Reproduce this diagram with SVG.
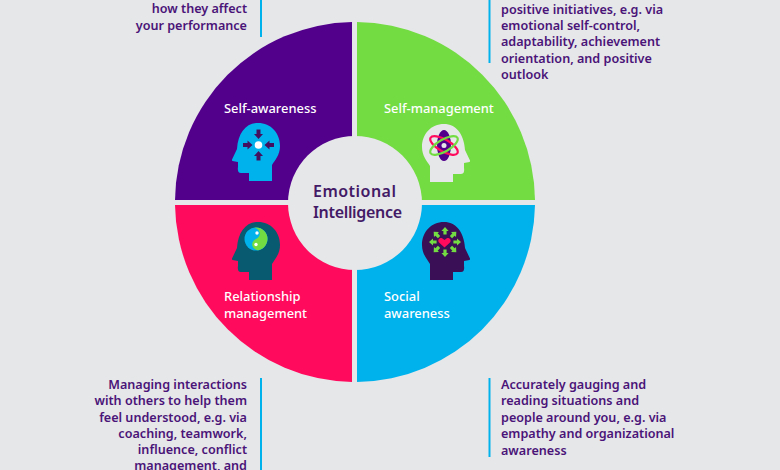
<svg xmlns="http://www.w3.org/2000/svg" width="780" height="470" viewBox="0 0 780 470">
<style>
text{font-family:"Noto Sans","Open Sans","DejaVu Sans",sans-serif}
.b{font-size:12.6px;font-weight:600;fill:#4a1478}
.e{text-anchor:end}
.l{font-size:12.9px;font-weight:500;fill:#fff}
.t{font-size:16px;font-weight:600;fill:#431a66}
.r{stroke:#00b2ec;stroke-width:2;fill:none}
.g{fill:#72dc42}
.p{fill:#ff0a5c}
.v{fill:#52008c}
.c{fill:#00b2ec}
</style>
<defs>
<path id="head" d="M26 0C39 0 48 10 48 23C48 32 43 37 40 42L40 58L17 58L17 50L9 50C6 50 5.500 47 6 44L6 39L0.500 38C-0.500 37.500 0 36 0.500 35.500L5 26C6 10 14 0 26 0Z"/>
<path id="ar" d="M-4.500 0L0 -5L4.500 0L2 0L2 4.500L-2 4.500L-2 0Z"/>
</defs>
<rect width="780" height="470" fill="#e6e7e9"/>
<g id="connectors">
<path class="r" d="M261 0V37"/>
<path class="r" d="M489.500 0V63"/>
<path class="r" d="M261 378V470"/>
<path class="r" d="M489.500 378V457"/>
</g>
<g id="self-awareness">
<path class="v" d="M352 22V200H175A180 180 0 0 1 352 22Z"/>
<text class="l" x="224" y="113">Self-awareness</text>
<use href="#head" x="232" y="123" class="c"/>
<g fill="#42105f">
<use href="#ar" transform="translate(258.500 134) rotate(180)"/>
<use href="#ar" transform="translate(258.500 156)"/>
<use href="#ar" transform="translate(247.500 145) rotate(90)"/>
<use href="#ar" transform="translate(269.500 145) rotate(-90)"/>
</g>
<circle cx="258.500" cy="145" r="3.800" fill="#fff"/>
</g>
<g id="self-management">
<path class="g" d="M357 22V200H535A180 180 0 0 0 357 22Z"/>
<text class="l" x="384" y="113">Self-management</text>
<use href="#head" transform="translate(470 124) scale(-1 1)" fill="#e6e7e9"/>
<g fill="none">
<ellipse cx="444" cy="145.500" rx="7" ry="15.500" fill="#52008c" stroke="none"/>
<ellipse cx="444" cy="145.500" rx="15.500" ry="6" stroke="#ff0a5c" stroke-width="2.200" transform="rotate(30 444 145.500)"/>
<ellipse cx="444" cy="145.500" rx="15.500" ry="6" stroke="#72dc42" stroke-width="2.200" transform="rotate(-30 444 145.500)"/>
</g>
<circle cx="444" cy="145.500" r="2.500" fill="#e6e7e9"/>
</g>
<g id="relationship-management">
<path class="p" d="M352 205V382A180 180 0 0 1 175 205Z"/>
<text class="l" x="224" y="301">Relationship</text>
<text class="l" x="224" y="318">management</text>
<use href="#head" x="232" y="222" fill="#075a70"/>
<circle cx="256" cy="239" r="11.500" class="c"/>
<path class="g" d="M256 227.500A11.500 11.500 0 0 1 256 250.500A5.750 5.750 0 0 1 256 239A5.750 5.750 0 0 0 256 227.500Z" transform="rotate(-20 256 239)"/>
<circle cx="257" cy="233" r="1.700" fill="#fff"/>
<circle cx="256" cy="244.500" r="1.700" fill="#fff"/>
</g>
<g id="social-awareness">
<path class="c" d="M357 205V382A180 180 0 0 0 535 205Z"/>
<text class="l" x="384" y="301">Social</text>
<text class="l" x="384" y="318">awareness</text>
<use href="#head" transform="translate(470 222) scale(-1 1)" fill="#3a0f55"/>
<g class="g">
<use href="#ar" transform="translate(445 231) scale(.8)"/>
<use href="#ar" transform="translate(445 253) rotate(180) scale(.8)"/>
<use href="#ar" transform="translate(433 242) rotate(-90) scale(.8)"/>
<use href="#ar" transform="translate(457 242) rotate(90) scale(.8)"/>
<use href="#ar" transform="translate(436.500 234.500) rotate(-45) scale(.8)"/>
<use href="#ar" transform="translate(453.500 234.500) rotate(45) scale(.8)"/>
<use href="#ar" transform="translate(436.500 249.500) rotate(-135) scale(.8)"/>
<use href="#ar" transform="translate(453.500 249.500) rotate(135) scale(.8)"/>
</g>
<path class="p" d="M444.500 247.500L439 242.500C437 240 440 237 442.500 238.500L444.500 240L446.500 238.500C449 237 452 240 450 242.500Z"/>
</g>
<g id="center">
<circle cx="355" cy="203" r="67" fill="#e6e7e9"/>
<text class="t" x="313" y="197" textLength="83">Emotional</text>
<text class="t" x="313" y="218" textLength="89">Intelligence</text>
</g>
<g id="notes">
<text class="b e" x="247" y="13">how they affect</text>
<text class="b e" x="247" y="30">your performance</text>
<text class="b" x="501" y="14">positive initiatives, e.g. via</text>
<text class="b" x="501" y="30">emotional self-control,</text>
<text class="b" x="501" y="46">adaptability, achievement</text>
<text class="b" x="501" y="63">orientation, and positive</text>
<text class="b" x="501" y="79">outlook</text>
<text class="b e" x="247" y="389">Managing interactions</text>
<text class="b e" x="247" y="405">with others to help them</text>
<text class="b e" x="247" y="422">feel understood, e.g. via</text>
<text class="b e" x="247" y="438">coaching, teamwork,</text>
<text class="b e" x="247" y="454">influence, conflict</text>
<text class="b e" x="247" y="470">management, and</text>
<text class="b" x="501" y="389">Accurately gauging and</text>
<text class="b" x="501" y="405">reading situations and</text>
<text class="b" x="501" y="422">people around you, e.g. via</text>
<text class="b" x="501" y="438">empathy and organizational</text>
<text class="b" x="501" y="455">awareness</text>
</g>
</svg>
